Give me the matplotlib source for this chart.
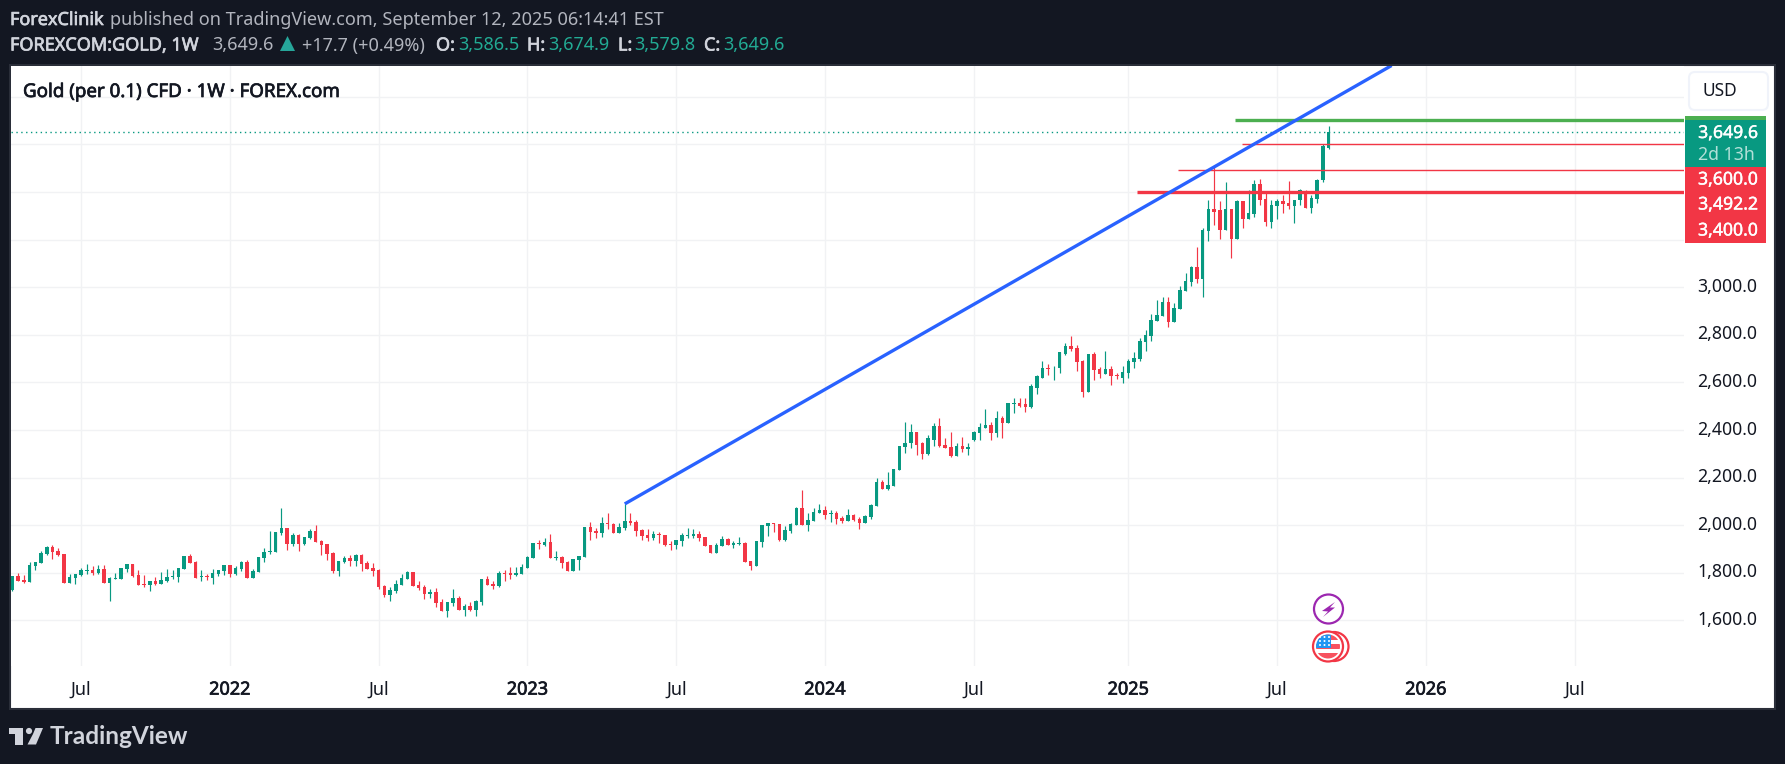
import matplotlib
matplotlib.use("Agg")
import matplotlib.pyplot as plt
import matplotlib.patches as mp
import matplotlib.patheffects as pe
from matplotlib.transforms import IdentityTransform, ScaledTranslation
import pandas as pd

W, H = 1785, 764
plt.rcParams['font.family'] = ['Noto Sans', 'DejaVu Sans']

highs = [
1787,1799,1791,1846,1846,1892,1913,1917,1905,1879,
1795,1795,1820,1837,1829,1833,1833,1782,1799,1820,
1837,1837,1812,1791,1766,1782,1803,1816,1812,1820,
1871,1879,1850,1812,1795,1816,1812,1833,1833,1829,
1850,1854,1816,1867,1905,1976,1972,2073,1989,1968,
1964,1951,1985,2001,1938,1921,1888,1850,1871,1875,
1879,1879,1850,1841,1816,1749,1740,1770,1795,1808,
1803,1766,1749,1732,1736,1690,1677,1732,1702,1669,
1677,1685,1774,1787,1766,1808,1812,1825,1825,1837,
1871,1926,1938,1947,1964,1892,1871,1850,1858,1871,
1993,2014,1989,2035,2052,2010,2010,2090,2052,2022,
1985,1985,1976,1972,1959,1934,1938,1968,1989,1985,
1976,1951,1917,1926,1955,1947,1934,1951,1930,1850,
1934,2001,2010,2010,2006,1997,2010,2077,2149,2052,
2073,2090,2081,2065,2060,2039,2069,2048,2035,2044,
2090,2199,2191,2225,2237,2334,2435,2423,2393,2351,
2380,2427,2452,2368,2393,2347,2372,2343,2397,2427,
2486,2435,2481,2460,2515,2536,2532,2532,2591,2629,
2688,2675,2667,2726,2764,2793,2755,2692,2721,2726,
2663,2730,2667,2641,2669,2698,2728,2787,2820,2888,
2947,2959,2959,2934,3006,3061,3090,3170,3250,3364,
3507,3360,3440,3330,3368,3360,3406,3452,3456,3397,
3368,3372,3385,3444,3368,3414,3406,3385,3456,3600,
3674.9]
body_tops = [
1787,1787,1770,1833,1846,1884,1909,1909,1892,1879,
1782,1795,1812,1812,1812,1816,1816,1778,1778,1820,
1837,1837,1791,1753,1766,1766,1770,1782,1787,1820,
1871,1871,1846,1787,1787,1799,1812,1833,1833,1820,
1846,1846,1808,1867,1888,1892,1972,1989,1989,1959,
1959,1951,1976,1976,1934,1921,1884,1850,1862,1862,
1875,1875,1841,1820,1812,1745,1728,1753,1778,1803,
1803,1749,1740,1719,1719,1677,1677,1694,1694,1660,
1660,1681,1774,1774,1753,1799,1799,1799,1799,1825,
1867,1926,1926,1930,1930,1867,1867,1846,1858,1871,
1993,1993,1976,2010,2010,2006,1993,2018,2018,2014,
1980,1959,1964,1964,1959,1921,1938,1959,1959,1964,
1964,1951,1917,1917,1942,1942,1926,1926,1926,1850,
1934,2001,2010,2010,2006,1980,2006,2073,2073,2022,
2056,2065,2065,2052,2052,2031,2044,2044,2027,2039,
2086,2183,2183,2170,2237,2334,2347,2393,2393,2343,
2364,2418,2418,2338,2330,2334,2334,2330,2393,2414,
2422,2422,2448,2448,2511,2515,2515,2507,2583,2625,
2662,2662,2662,2726,2751,2751,2743,2688,2721,2721,
2654,2654,2654,2629,2644,2690,2702,2774,2799,2863,
2884,2938,2938,2913,2989,3027,3086,3086,3242,3330,
3330,3322,3330,3330,3360,3360,3313,3435,3435,3372,
3343,3360,3360,3355,3368,3406,3402,3376,3452,3591,
3649.6]
body_bottoms = [
1728,1766,1761,1761,1829,1841,1879,1888,1875,1757,
1757,1778,1791,1808,1799,1799,1757,1757,1774,1774,
1816,1787,1749,1749,1749,1753,1753,1766,1782,1782,
1816,1841,1778,1782,1782,1778,1795,1808,1795,1795,
1816,1778,1778,1803,1862,1888,1888,1968,1921,1921,
1921,1921,1947,1930,1917,1879,1808,1808,1846,1850,
1850,1837,1816,1808,1740,1707,1707,1723,1749,1774,
1745,1736,1711,1711,1673,1639,1639,1673,1643,1643,
1643,1643,1677,1749,1745,1745,1795,1791,1791,1795,
1820,1862,1921,1917,1862,1862,1841,1808,1808,1854,
1867,1972,1968,1968,2006,1968,1968,1989,2010,1976,
1955,1947,1947,1959,1917,1917,1917,1934,1955,1955,
1947,1913,1884,1884,1913,1917,1917,1921,1846,1829,
1829,1930,1997,2006,1938,1938,1976,2001,2001,2001,
2018,2052,2044,2048,2027,2018,2018,2022,2010,2010,
2035,2081,2153,2153,2166,2233,2330,2343,2338,2300,
2300,2359,2334,2326,2292,2292,2321,2321,2359,2389,
2410,2385,2385,2431,2431,2507,2502,2498,2498,2578,
2620,2654,2658,2658,2721,2738,2684,2561,2561,2650,
2633,2633,2625,2625,2618,2639,2686,2698,2770,2795,
2858,2879,2854,2854,2909,2985,3023,3035,3035,3237,
3317,3242,3242,3204,3204,3288,3288,3309,3368,3275,
3275,3339,3351,3339,3339,3364,3334,3334,3372,3448,
3586.5]
lows = [
1723,1766,1757,1761,1812,1841,1875,1858,1871,1757,
1757,1753,1787,1795,1791,1795,1757,1681,1774,1774,
1803,1782,1749,1740,1723,1749,1753,1761,1774,1761,
1816,1841,1778,1766,1770,1753,1787,1791,1782,1791,
1808,1778,1778,1803,1846,1879,1888,1959,1896,1913,
1892,1917,1942,1930,1875,1854,1799,1787,1841,1829,
1829,1808,1816,1787,1732,1698,1681,1715,1749,1774,
1745,1728,1690,1694,1656,1639,1614,1660,1643,1618,
1639,1618,1664,1749,1732,1740,1766,1774,1787,1795,
1820,1862,1900,1913,1862,1854,1820,1808,1808,1812,
1867,1938,1947,1951,1985,1968,1968,1980,2001,1955,
1938,1934,1938,1926,1913,1896,1900,1913,1947,1947,
1934,1913,1884,1884,1913,1917,1905,1917,1846,1812,
1829,1909,1955,1972,1934,1934,1968,2001,2001,1976,
2018,2052,2027,2014,2006,2010,2018,2018,1985,2010,
2027,2081,2153,2149,2166,2233,2305,2326,2296,2279,
2296,2334,2330,2326,2288,2292,2309,2296,2355,2359,
2406,2359,2372,2368,2427,2473,2498,2477,2490,2549,
2616,2629,2608,2641,2713,2730,2646,2540,2561,2608,
2616,2633,2587,2612,2597,2618,2660,2690,2732,2774,
2858,2879,2833,2854,2909,2985,3006,3018,2959,3195,
3263,3204,3242,3124,3204,3250,3288,3296,3343,3258,
3250,3288,3313,3330,3271,3347,3334,3313,3355,3440,
3579.8]
directions = """
u d d u u u u d d d
u u u u d u d u u u
u d d d u d u u u u
u d d u d u u u d u
u d u u u u u u d u
d u u d d d d u u d
u d d d d d u u u u
d d d u d d u u d u
d u u d d u d d u u
u u d u d u d d u u
u d d u d d u u d d
d d u d d d u u u u
d d d u u d u u d d
u u u d d u u u d u
u u d u d d u d d u
u u d u u u u u d d
u u d d d u d u u u
u d u d u u d d u u
u d u u u d d d u d
d u d d u u u u u u
u u d u u u u d u u
d d u d u d u u d d
u u d d u u d u u u
u""".split()

last_week = "2025-09-08"
dates = pd.date_range(end=last_week, periods=len(highs), freq="W-MON")

price_ticks = [1600, 1800, 2000, 2200, 2400, 2600, 2800, 3000, 3200, 3400, 3600, 3800]
price_labels = ["1,600.0", "1,800.0", "2,000.0", "2,200.0", "2,400.0", "2,600.0", "2,800.0", "3,000.0",
                "", "", "", ""]
time_ticks = ["2021-07-05", "2022-01-03", "2022-07-04", "2023-01-02", "2023-07-03", "2024-01-01",
              "2024-07-01", "2025-01-06", "2025-07-07", "2026-01-05", "2026-07-06"]
time_labels = ["Jul", "2022", "Jul", "2023", "Jul", "2024", "Jul", "2025", "Jul", "2026", "Jul"]

last_price = 3649.6
trend_dates = ["2023-05-01", "2025-11-24"]
trend_prices = [2089, 3931]
level_green = (3701, "2025-05-17")
level_thin = [(3600, "2025-05-25"), (3492.2, "2025-03-08")]
level_thick = (3400, "2025-01-17")

UP, DOWN = "#089981", "#f23645"
BG = "#131722"

fig = plt.figure(figsize=(W / 100, H / 100), dpi=100, facecolor=BG)
IDT = IdentityTransform()


def add(p, z=6):
    p.set_transform(IDT)
    p.set_zorder(z)
    fig.add_artist(p)
    return p


def rect(x0, y0, x1, y1, color, z=6, **kw):
    return add(mp.Rectangle((x0, H - y1), x1 - x0, y1 - y0, facecolor=color, edgecolor="none", **kw), z)


def label(x, y, s, color="#d1d4dc", size=13, weight="normal", ha="left", family=None, z=7, stroke=0):
    kw = {"family": family} if family else {}
    t = fig.text(x / W, 1 - y / H, s, color=color, fontsize=size, fontweight=weight,
                 ha=ha, va="center", zorder=z, **kw)
    if stroke:
        t.set_path_effects([pe.withStroke(linewidth=stroke, foreground=color)])
    return t


# white chart panel
add(mp.Rectangle((10, H - 708.5), 1764.5, 644, facecolor="white", edgecolor="#2a2e39", linewidth=1.5), -1)

ax = fig.add_axes([11 / W, 1 - 666 / H, (1684 - 11) / W, (666 - 66) / H], facecolor="white", zorder=0)
end = pd.Timestamp(last_week)
ax.set_xlim(end - pd.Timedelta(weeks=230.25), end + pd.Timedelta(weeks=62.1))
ax.set_ylim(1408, 3929)
ax.set_yticks(price_ticks, price_labels)
ax.set_xticks(pd.to_datetime(time_ticks), time_labels)
ax.yaxis.tick_right()
ax.grid(True, color="#f1f2f4", lw=1.0)
ax.set_axisbelow(True)
for s in ax.spines.values():
    s.set_visible(False)
ax.tick_params(length=0)
ax.tick_params(axis="y", pad=9.5, labelsize=12.7, labelcolor="#131722")
ax.tick_params(axis="x", pad=10.5, labelsize=13, labelcolor="#131722")
for t, s in zip(ax.get_xticklabels(), time_labels):
    if s != "Jul":
        t.set_fontweight("bold")
        t.set_path_effects([pe.withStroke(linewidth=0.5, foreground="#131722")])
for t in ax.get_yticklabels():
    t.set_verticalalignment("center")
    t.set_transform(t.get_transform() + ScaledTranslation(0, 0.4 / 100, fig.dpi_scale_trans))

colors = [UP if d == "u" else DOWN for d in directions]
ax.vlines(dates, lows, highs, colors=colors, lw=0.85, zorder=3)
ax.bar(dates, [max(t - b, 2.5) for t, b in zip(body_tops, body_bottoms)], bottom=body_bottoms,
       width=4.3, color=colors, linewidth=0, zorder=4)

right = ax.get_xlim()[1]
ax.axhline(last_price, color=UP, lw=1.0, ls=(0, (1, 2.5)), zorder=2)
for price, start in level_thin:
    ax.hlines(price, pd.Timestamp(start), right, color=DOWN, lw=1.0, zorder=5)
ax.hlines(level_thick[0], pd.Timestamp(level_thick[1]), right, color=DOWN, lw=2.4, zorder=5)
ax.hlines(level_green[0], pd.Timestamp(level_green[1]), right, color="#4caf50", lw=2.4, zorder=5)
ax.plot(pd.to_datetime(trend_dates), trend_prices, color="#2962ff", lw=2.4, zorder=6,
        solid_capstyle="butt")

# header
label(10, 20, "ForexClinik", weight="bold", stroke=0.5)
label(110, 20, "published on TradingView.com, September 12, 2025 06:14:41 EST", color="#b2b5be")
label(10, 45.5, "FOREXCOM:GOLD, 1W", weight="bold", stroke=0.5)
label(212, 45.5, "3,649.6", color="#b2b5be")
add(mp.Polygon([(280, H - 51), (295, H - 51), (287.5, H - 36)], closed=True, facecolor="#26a69a", edgecolor="none"))
label(302, 45.5, "+17.7 (+0.49%)", color="#b2b5be")
for xa, a, xb, b in [(436, "O:", 458, "3,586.5"), (527, "H:", 548, "3,674.9"),
                     (618, "L:", 634, "3,579.8"), (704, "C:", 723, "3,649.6")]:
    label(xa, 45.5, a, weight="bold", stroke=0.5)
    label(xb, 45.5, b, color="#22ab94")

label(23, 92, "Gold (per 0.1) CFD · 1W · FOREX.com", color="#131722", size=13.5, weight="bold", stroke=0.5)

# currency button
add(mp.FancyBboxPatch((1689, H - 110), 79, 38, boxstyle="round,pad=0,rounding_size=6",
                      facecolor="white", edgecolor="#f0f3fa", linewidth=1.5), 6)
label(1720, 91.5, "USD", color="#131722", size=12.5, ha="center")

# price tags
rect(1685, 116, 1766, 167, UP)
rect(1685, 116, 1766, 119.5, "#4caf50")
rect(1685, 167, 1766, 243, DOWN)
for y, s in [(133, "3,649.6"), (179.5, "3,600.0"), (204.5, "3,492.2"), (230.5, "3,400.0")]:
    label(1758, y, s, color="white", size=12.7, ha="right", weight="medium", stroke=0.3)
label(1698, 154.5, "2d 13h", color="#b2e0d8", size=12.7)

# event icons
PURPLE = "#9c27b0"
add(mp.Circle((1328.5, H - 609), 14.5, facecolor="white", edgecolor=PURPLE, linewidth=1.6), 5)
add(mp.Polygon([(1335, H - 602), (1322, H - 611), (1328, H - 611.5), (1323, H - 617),
                (1335, H - 607.5), (1330, H - 607.5)], closed=True, facecolor=PURPLE, edgecolor="none"), 6)
ICON_RED = "#f23645"
add(mp.Circle((1334, H - 646.5), 14.5, facecolor="white", edgecolor=ICON_RED, linewidth=1.6), 5)
add(mp.Circle((1328, H - 646.5), 15, facecolor="white", edgecolor=ICON_RED, linewidth=1.6), 5.1)
clip = add(mp.Circle((1328, H - 646.5), 12, facecolor="white", edgecolor="none"), 5.2)
for x0, y0, x1, y1, c in [(1316, 634, 1342, 639.5, "#f7525f"), (1316, 644, 1341, 649, "#f7525f"),
                          (1316, 652.5, 1342, 659, "#f7525f"), (1316, 634, 1331, 648, "#2196f3")]:
    r = rect(x0, y0, x1, y1, c, z=5.3)
    r.set_clip_path(clip)
for px in (1320, 1324.5, 1329):
    for py in (637, 641, 645):
        add(mp.Circle((px, H - py), 1.0, facecolor="white", edgecolor="none"), 5.4)

# brand
LOGO = "#d1d4dc"
rect(9, 728, 23, 733.5, LOGO)
rect(15, 728, 23, 744.5, LOGO)
add(mp.Circle((29, H - 731), 3.1, facecolor=LOGO, edgecolor="none"))
add(mp.Polygon([(35.5, H - 728), (43, H - 728), (36, H - 744.5), (27.5, H - 744.5), (33, H - 734)],
               closed=True, facecolor=LOGO, edgecolor="none"))
label(50, 737, "TradingView", color=LOGO, size=17.6, weight="bold", family="Lato")

fig.savefig("out.png", dpi=100, facecolor=BG)
